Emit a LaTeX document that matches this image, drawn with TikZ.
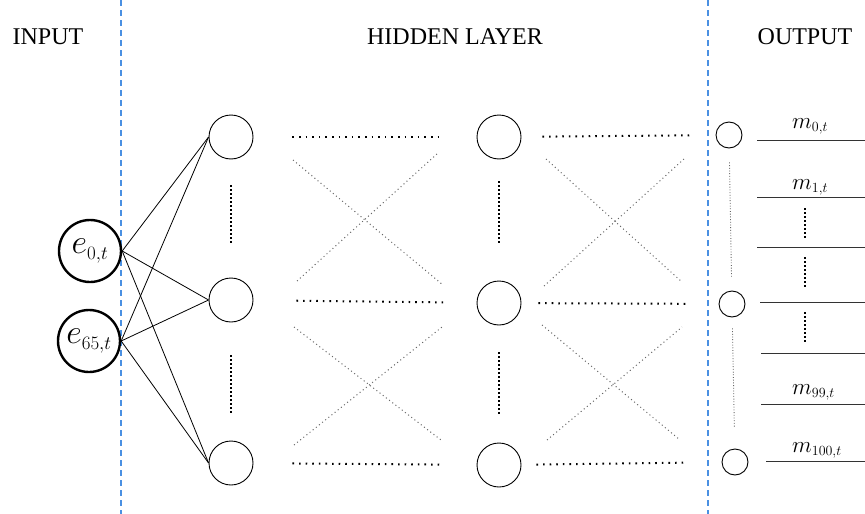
\RequirePackage{fix-cm}
\documentclass[tikz,border=0pt]{standalone}
\usepackage{fontspec}
\newfontfamily\titlefont{Liberation Serif}
\DeclareMathSizes{34}{34}{19}{14}
\DeclareMathSizes{23}{23}{14}{10}
\usetikzlibrary{calc}
\begin{document}
\begin{tikzpicture}[x=1pt,y=-1pt,
  inputnode/.style={circle,draw,line width=2.4pt,minimum size=62pt,inner sep=0pt},
  hiddennode/.style={circle,draw,line width=0.9pt,minimum size=44pt,inner sep=0pt},
  outnode/.style={circle,draw,line width=0.9pt,minimum size=26pt,inner sep=0pt},
  layerlabel/.style={font=\titlefont\fontsize{24}{26}\selectfont},
  divider/.style={draw={rgb,255:red,74;green,144;blue,226},line width=1.5pt,dash pattern=on 6pt off 4pt},
  link/.style={line width=0.8pt},
  rowdots/.style={line width=2pt,dash pattern=on 1.6pt off 5pt,line cap=butt},
  coldots/.style={line width=2pt,dash pattern=on 1.6pt off 2.4pt},
  crossdots/.style={line width=1pt,gray!80!black,dash pattern=on 1pt off 3pt},
  outdots/.style={line width=0.9pt,gray!80!black,dash pattern=on 0.9pt off 1.8pt},
  outline/.style={line width=1pt,black!80},
  mlabel/.style={anchor=base west,inner sep=0pt,font=\fontsize{23}{24}\selectfont},
  elabel/.style={font=\fontsize{34}{35}\selectfont}
]
\useasboundingbox (0,0) rectangle (865,514);

% layer dividers
\coordinate (d1t) at (121,0);  \coordinate (d1b) at (121,514);
\coordinate (d2t) at (708,0);  \coordinate (d2b) at (708,514);
\draw[divider] (d1t) -- (d1b);
\draw[divider] (d2t) -- (d2b);

% layer titles
\node[layerlabel] (tin)  at (48,37)  {INPUT};
\node[layerlabel] (thid) at (455,37) {HIDDEN LAYER};
\node[layerlabel] (tout) at (805,37) {OUTPUT};

% input neurons
\node[inputnode,elabel] (in0) at (90,251) {$e_{0,t}$};
\node[inputnode,elabel] (in1) at (89,341) {$e_{65,t}$};

% hidden neurons
\node[hiddennode] (h1a) at (231,137) {};
\node[hiddennode] (h1b) at (231,300) {};
\node[hiddennode] (h1c) at (231,463) {};
\node[hiddennode] (h2a) at (499,137) {};
\node[hiddennode] (h2b) at (499,303) {};
\node[hiddennode] (h2c) at (499,465) {};

% output neurons
\node[outnode] (o1) at (729,135) {};
\node[outnode] (o2) at (732,304) {};
\node[outnode] (o3) at (735,462) {};

% input to first hidden column
\foreach \s in {in0,in1}
  \foreach \t in {h1a,h1b,h1c}
    \draw[link] (\s.east) -- (\t.west);

% ellipses inside hidden columns
\draw[coldots,shorten <=26pt,shorten >=33pt] (h1a) -- (h1b);
\draw[coldots,shorten <=33pt,shorten >=28pt] (h1b) -- (h1c);
\draw[coldots,shorten <=22pt,shorten >=36pt] (h2a) -- (h2b);
\draw[coldots,shorten <=27pt,shorten >=27pt] (h2b) -- (h2c);

% hidden to hidden, straight rows
\draw[rowdots,shorten <=39pt,shorten >=35pt] (h1a) -- (h2a);
\draw[rowdots,shorten <=43pt,shorten >=33pt] (h1b) -- (h2b);
\draw[rowdots,shorten <=39pt,shorten >=37pt] (h1c) -- (h2c);
% hidden to output, straight rows
\draw[rowdots,shorten <=21pt,shorten >=26pt] (h2a) -- (o1);
\draw[rowdots,shorten <=17pt,shorten >=30pt] (h2b) -- (o2);
\draw[rowdots,shorten <=15pt,shorten >=37pt] (h2c) -- (o3);

% crossing links between rows
\coordinate (xa1) at (293,160); \coordinate (xa2) at (443,285);
\coordinate (xa3) at (297,281); \coordinate (xa4) at (438,153);
\coordinate (xb1) at (546,159); \coordinate (xb2) at (682,282);
\coordinate (xb3) at (544,286); \coordinate (xb4) at (684,159);
\coordinate (xc1) at (294,327); \coordinate (xc2) at (441,440);
\coordinate (xc3) at (294,445); \coordinate (xc4) at (442,327);
\coordinate (xd1) at (542,325); \coordinate (xd2) at (680,440);
\coordinate (xd3) at (547,440); \coordinate (xd4) at (682,327);
\foreach \p/\q in {xa1/xa2,xa3/xa4,xb1/xb2,xb3/xb4,xc1/xc2,xc3/xc4,xd1/xd2,xd3/xd4}
  \draw[crossdots] (\p) -- (\q);

% ellipses between output neurons
\draw[outdots,shorten <=14pt,shorten >=13pt] (o1) -- (o2);
\draw[outdots,shorten <=11pt,shorten >=22pt] (o2) -- (o3);

% output lines
\foreach \n/\xs/\yy in {1/757/140,2/757/197,3/757/247,4/760/302,5/761/353,6/761/404,7/766/461}{
  \coordinate (l\n s) at (\xs,\yy);
  \coordinate (l\n e) at (865,\yy);
  \draw[outline] (l\n s) -- (l\n e);
}

% output labels
\node[mlabel] (m0)   at (792,128) {$m_{0,t}$};
\node[mlabel] (m1)   at (792,189) {$m_{1,t}$};
\node[mlabel] (m99)  at (792,394) {$m_{99,t}$};
\node[mlabel] (m100) at (792,452) {$m_{100,t}$};

% ellipses between output lines
\foreach \a/\b in {208/239,257/287,312/342}{
  \coordinate (vt\a) at (805,\a);
  \coordinate (vb\a) at (805,\b);
  \draw[coldots] (vt\a) -- (vb\a);
}
\end{tikzpicture}
\end{document}
